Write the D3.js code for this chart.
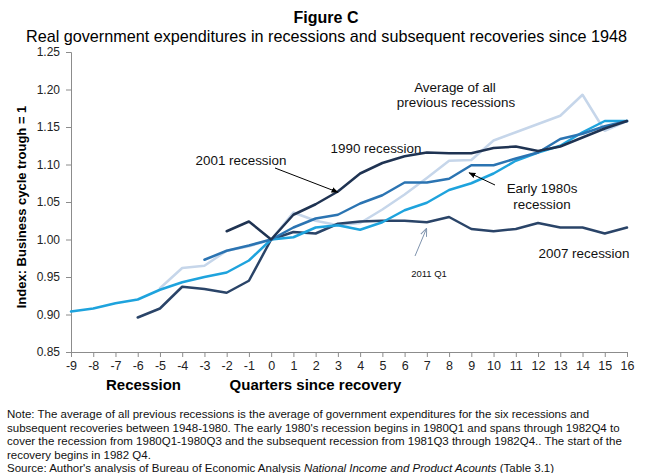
<!DOCTYPE html>
<html>
<head>
<meta charset="utf-8">
<script src="https://cdn.jsdelivr.net/npm/d3@7"></script>
<style>
  html, body { margin: 0; padding: 0; background: #fff; }
  svg { display: block; font-family: "Liberation Sans", Arial, sans-serif; }
</style>
</head>
<body>
<svg id="chart" width="650" height="473"></svg>
<script>
// ---- Data ----
const quarters = [-9,-8,-7,-6,-5,-4,-3,-2,-1,0,1,2,3,4,5,6,7,8,9,10,11,12,13,14,15,16];
const yTicks = [0.85,0.90,0.95,1.00,1.05,1.10,1.15,1.20,1.25];

const avgPrevious = [null,null,null,null,0.935,0.962,0.965,0.985,0.991,1.000,1.036,1.025,1.019,1.022,1.040,1.060,1.082,1.105,1.106,1.132,1.143,1.154,1.165,1.193,1.145,1.158];
const early1980s  = [0.904,0.908,0.915,0.920,0.933,0.943,0.950,0.956,0.972,1.000,1.003,1.016,1.019,1.013,1.023,1.039,1.049,1.066,1.075,1.088,1.105,1.116,1.125,1.143,1.158,1.158];
const rec1990     = [null,null,null,null,null,null,0.973,0.985,0.992,1.000,1.016,1.028,1.033,1.048,1.059,1.076,1.076,1.081,1.099,1.099,1.108,1.116,1.134,1.141,1.151,1.158];
const rec2001     = [null,null,null,null,null,null,null,1.011,1.024,1.000,1.033,1.047,1.064,1.088,1.102,1.111,1.116,1.115,1.115,1.122,1.124,1.118,1.124,1.136,1.148,1.158];
const rec2007     = [null,null,null,0.896,0.908,0.937,0.934,0.929,0.945,1.000,1.010,1.008,1.021,1.024,1.025,1.025,1.023,1.030,1.014,1.011,1.014,1.022,1.016,1.016,1.008,1.016];

const seriesNames  = ["Average of all previous recessions","2007 recession","Early 1980s recession","1990 recession","2001 recession"];
const seriesValues = [avgPrevious, rec2007, early1980s, rec1990, rec2001];
const seriesColors = ["#c6d6ea","#2a4468","#1ea3dd","#2b74b2","#1f3352"];

const noteLines = [
  "Note: The average of all previous recessions is the average of government expenditures for the six recessions and",
  "subsequent recoveries between 1948-1980.  The early 1980's recession begins in 1980Q1 and spans through 1982Q4 to",
  "cover the recession from 1980Q1-1980Q3 and the subsequent recession from 1981Q3 through 1982Q4..  The start of the",
  "recovery begins in 1982 Q4."
];

// ---- Drawing ----
const svg = d3.select("#chart");
svg.append("rect").attr("width",650).attr("height",473).attr("fill","#fff");

const x = d3.scaleLinear().domain([-9,16]).range([71,627]);
const y = d3.scaleLinear().domain([0.85,1.25]).range([352,52]);

// Titles
svg.append("text").attr("x",326).attr("y",23).attr("text-anchor","middle")
  .attr("font-size",16).attr("font-weight","bold").attr("fill","#000").text("Figure C");
svg.append("text").attr("x",326.5).attr("y",42).attr("text-anchor","middle")
  .attr("font-size",16.2).attr("fill","#000")
  .text("Real government expenditures in recessions and subsequent recoveries since 1948");

// Axes
const yAxis = svg.append("g").attr("transform","translate(71,0)")
  .call(d3.axisLeft(y).tickValues(yTicks).tickFormat(d3.format(".2f")).tickSize(5).tickPadding(6));
const xAxis = svg.append("g").attr("transform","translate(0,352)")
  .call(d3.axisBottom(x).tickValues(quarters).tickFormat(d => String(d)).tickSize(5).tickPadding(4));
[yAxis, xAxis].forEach(g => {
  g.select(".domain").attr("stroke","#8c8c8c");
  g.selectAll(".tick line").attr("stroke","#8c8c8c");
  g.selectAll(".tick text").attr("fill","#222").attr("font-size",12.5)
    .attr("font-family","'Liberation Sans', Arial, sans-serif");
});
yAxis.selectAll(".tick text").attr("font-size",12);

// Axis titles
svg.append("text").attr("transform","translate(26,207) rotate(-90)").attr("text-anchor","middle")
  .attr("font-size",13).attr("font-weight","bold").attr("fill","#000")
  .text("Index: Business cycle trough = 1");
svg.append("text").attr("x",143.5).attr("y",390).attr("text-anchor","middle")
  .attr("font-size",15).attr("font-weight","bold").attr("fill","#000").text("Recession");
svg.append("text").attr("x",315.5).attr("y",390).attr("text-anchor","middle")
  .attr("font-size",15).attr("font-weight","bold").attr("fill","#000").text("Quarters since recovery");

// Lines
const line = d3.line()
  .defined(d => d[1] !== null)
  .x(d => x(d[0])).y(d => y(d[1]));
seriesValues.forEach((vals, i) => {
  svg.append("path")
    .datum(quarters.map((q, j) => [q, vals[j]]))
    .attr("d", line)
    .attr("fill","none")
    .attr("stroke", seriesColors[i])
    .attr("stroke-width", 2.5)
    .attr("stroke-linejoin","round")
    .attr("stroke-linecap","round")
    .attr("class","series")
    .attr("data-name", seriesNames[i]);
});

// Arrow markers
const defs = svg.append("defs");
defs.append("marker").attr("id","arrowBlack").attr("viewBox","0 0 10 10")
  .attr("refX",9).attr("refY",5).attr("markerWidth",7).attr("markerHeight",7)
  .attr("orient","auto").attr("markerUnits","userSpaceOnUse")
  .append("path").attr("d","M0,1 L10,5 L0,9 z").attr("fill","#000");
defs.append("marker").attr("id","arrowGrey").attr("viewBox","0 0 10 10")
  .attr("refX",9).attr("refY",5).attr("markerWidth",8).attr("markerHeight",8)
  .attr("orient","auto").attr("markerUnits","userSpaceOnUse")
  .append("path").attr("d","M0,1 L10,5 L0,9").attr("fill","none").attr("stroke","#7f93ad").attr("stroke-width",1.2);

// Annotations
const lab = (tx, ty, t, size, anchor) => svg.append("text").attr("x",tx).attr("y",ty)
  .attr("text-anchor",anchor || "middle").attr("font-size",size || 13.4).attr("fill","#111").text(t);

lab(455, 91.5, "Average of all");
lab(456, 107, "previous recessions");
lab(376, 153, "1990 recession");
lab(241, 165, "2001 recession");
lab(542, 193, "Early 1980s");
lab(542, 208.5, "recession");
lab(584, 257.5, "2007 recession");
lab(429, 277, "2011 Q1", 9.5);

// Arrows pointing at series points
svg.append("line").attr("x1",275).attr("y1",168).attr("x2",x(3)).attr("y2",y(1.063))
  .attr("stroke","#000").attr("stroke-width",1).attr("marker-end","url(#arrowBlack)");
svg.append("line").attr("x1",495).attr("y1",185).attr("x2",x(8.9)).attr("y2",y(1.089))
  .attr("stroke","#000").attr("stroke-width",1).attr("marker-end","url(#arrowBlack)");
svg.append("line").attr("x1",415).attr("y1",256).attr("x2",x(7)-0.5).attr("y2",y(1.014))
  .attr("stroke","#7f93ad").attr("stroke-width",1).attr("marker-end","url(#arrowGrey)");

// Notes
const notes = svg.append("g").attr("font-size",11.5).attr("fill","#111");
noteLines.forEach((t, i) => {
  notes.append("text").attr("x",7).attr("y",418 + i*13.5).text(t);
});
const src = notes.append("text").attr("x",7).attr("y",472);
src.append("tspan").text("Source: Author's analysis of Bureau of Economic Analysis ");
src.append("tspan").attr("font-style","italic").text("National Income and Product Acounts");
src.append("tspan").text(" (Table 3.1)");
</script>
</body>
</html>
